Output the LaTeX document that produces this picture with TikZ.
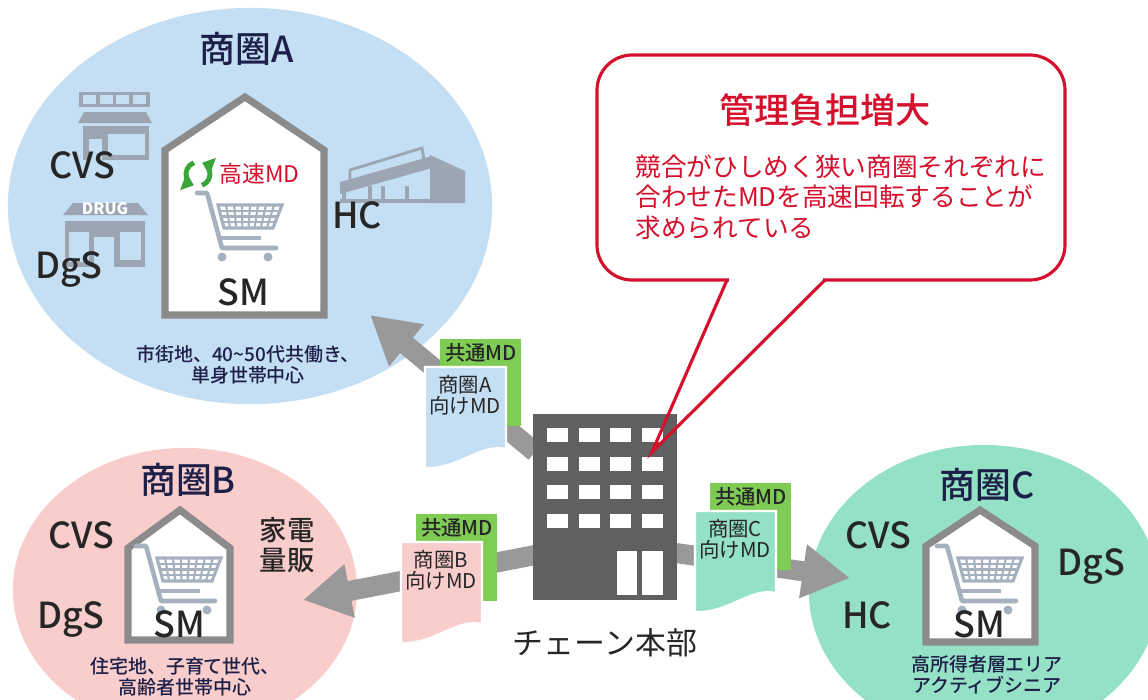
\documentclass[tikz,border=0pt]{standalone}
\usepackage{fontspec}
\setmainfont{Noto Sans CJK JP}
\newfontfamily\medfont{Noto Sans CJK JP Medium}
\usetikzlibrary{arrows.meta,shapes.geometric}

\definecolor{areaA}{HTML}{C4DEF3}
\definecolor{areaB}{HTML}{F8CDCB}
\definecolor{areaC}{HTML}{95E1C6}
\definecolor{navy}{HTML}{1C1F48}
\definecolor{alert}{HTML}{D5102C}
\definecolor{mdgreen}{HTML}{7FCC55}
\definecolor{iconGray}{HTML}{9CA6B2}
\definecolor{wallGray}{HTML}{8B8B8B}
\definecolor{hqGray}{HTML}{606060}
\definecolor{arrGray}{HTML}{999999}
\definecolor{cartGray}{HTML}{A6B1C0}
\definecolor{ink}{HTML}{262626}
\definecolor{recycle}{HTML}{3AA63A}

% green "common MD" tab with the area sheet on top
% #1,#2: top left of the tab, #3: sheet colour, #4: area letter, #5: node prefix
\newcommand{\mddoc}[5]{%
  \begin{scope}[shift={(#1,#2)}]
    \fill[mdgreen] (0,0) rectangle (81,87);
    \node[tabtxt] (#5tab) at (41,14) {共通MD};
    \filldraw[fill=#3, draw=white, line width=0.6pt]
      (-15,28) -- (66,28) -- (66,110) .. controls (40,104) and (20,130) .. (-15,129) -- cycle;
    \node[doctxt] (#5doc) at (25,56) {商圏#4\\向けMD};
  \end{scope}}

\begin{document}
\begin{tikzpicture}[x=0.01cm, y=-0.01cm,
  area/.style={ellipse, inner sep=0pt},
  title/.style={font=\fontsize{10.2}{12}\selectfont\medfont, text=navy},
  shop/.style={font=\fontsize{10.2}{12}\selectfont\medfont, text=ink, anchor=base},
  desc/.style={font=\fontsize{5.4}{5.9}\selectfont\medfont, text=navy, align=center},
  house/.style={draw=wallGray, fill=white, line width=2pt},
  icon/.style={fill=iconGray},
  bigarr/.style={arrGray, line width=5.7pt, -{Triangle[length=13.5pt,width=14.5pt]}},
  tabtxt/.style={font=\fontsize{5.8}{6}\selectfont\medfont, text=ink},
  doctxt/.style={font=\fontsize{5.8}{6}\selectfont, text=ink, align=center},
  bubble/.style={draw=alert, fill=white, line width=0.9pt, rounded corners=10pt},
  turn/.style={recycle, line width=1.4pt, -{Triangle[length=3.2pt,width=5pt]}},
  cart/.pic={
    \draw[cartGray, line width=1.3pt, line join=round, line cap=round]
      (-48,-32) -- (-38,-32) -- (-23,23) -- (31,23);
    \draw[cartGray, line width=1.3pt] (-25,13) -- (16,13);
    \draw[cartGray, line width=0.9pt] (-27,-20) -- (37,-20) -- (28,3) -- (-21,3) -- cycle;
    \foreach \i in {1,...,7}
      \draw[cartGray, line width=0.6pt] ({-27+\i*8},-20) -- ({-21+\i*6.125},3);
    \foreach \k in {1,2,3}
      \draw[cartGray, line width=0.6pt] ({-27+1.5*\k},{-20+5.75*\k}) -- ({37-2.25*\k},{-20+5.75*\k});
    \fill[cartGray] (-23,32) circle[radius=4.5] (23,32) circle[radius=4.5];
  }
]
\useasboundingbox (0,0) rectangle (1148,699);

% --- Areas ---
\node[area, fill=areaA, minimum width=4.84cm, minimum height=3.96cm] (areaA) at (250,206) {};
\node[area, fill=areaB, minimum width=3.44cm, minimum height=2.84cm] (areaB) at (185,590) {};
\node[area, fill=areaC, minimum width=3.50cm, minimum height=2.94cm] (areaC) at (984,592) {};

% --- Area A: shops ---
\fill[icon] (79,92) rectangle (150,107);
\foreach \k in {0,...,3} \fill[areaA] ({83+\k*16.5},95) rectangle ++(13,9);
\fill[icon] (84,112) -- (146,112) -- (152,123) -- (78,123) -- cycle;
\fill[icon] (83,126) rectangle (149,160);
\fill[areaA] (89,139) rectangle (102,160);
\fill[areaA] (108,134) rectangle (145,155);

\fill[icon] (73,203) -- (138,203) -- (148,215) -- (63,215) -- cycle;
\node[font=\fontsize{4.5}{5}\selectfont\bfseries, text=white] (drug) at (105,209) {DRUG};
\fill[icon] (65,221) rectangle (145,267);
\fill[areaA] (69,232) rectangle (89,262);
\fill[areaA] (94,237) rectangle (114,267);
\fill[areaA] (120,232) rectangle (141,260);

\draw[iconGray, line width=0.8pt] (350,182) -- (350,170) -- (422,148) -- (424,160);
\fill[icon] (340,182) -- (432,156) -- (432,168) -- (340,194) -- cycle;
\fill[icon] (430,155) -- (465,171) -- (465,203) -- (430,203) -- cycle;
\foreach \px in {342,368,381,405} \fill[icon] (\px,186) rectangle ++(4,17);
\fill[icon] (340,199) rectangle (432,203);

\node[title] (titleA) at (247,49) {商圏A};
\node[shop] (cvsA) at (82,178) {CVS};
\node[shop] (dgsA) at (69,278) {DgS};
\node[shop] (hcA) at (357,228) {HC};

\draw[house] (165,315) -- (165,150) -- (245,97) -- (324,150) -- (324,315) -- cycle;
\coordinate (turnA) at (198,174);
\draw[turn] (turnA) ++(110:0.12cm) arc[start angle=110, end angle=250, radius=0.12cm];
\draw[turn] (turnA) ++(290:0.12cm) arc[start angle=290, end angle=430, radius=0.12cm];
\node[font=\fontsize{6.5}{7}\selectfont, text=alert, anchor=west] (fastmd) at (207,174) {高速MD};
\pic at (245,225) {cart};
\node[shop] (smA) at (243,305) {SM};
\node[desc] (descA) at (248,365) {市街地、40\textasciitilde 50代共働き、\\単身世帯中心};

% --- Area B ---
\node[title] (titleB) at (188,480) {商圏B};
\node[shop] (cvsB) at (81,548) {CVS};
\node[shop] (dgsB) at (71,628) {DgS};
\node[font=\fontsize{7.8}{8.4}\selectfont\medfont, text=ink, align=center] (kaden) at (287,545) {家電\\量販};
\draw[house] (128,640) -- (128,548) -- (180,510) -- (230,548) -- (230,640) -- cycle;
\pic at (184,578) {cart};
\node[shop] (smB) at (179,637) {SM};
\node[desc] (descB) at (185,677) {住宅地、子育て世代、\\高齢者世帯中心};

% --- Area C ---
\node[title] (titleC) at (987,485) {商圏C};
\node[shop] (cvsC) at (878,548) {CVS};
\node[shop] (dgsC) at (1091,575) {DgS};
\node[shop] (hcC) at (867,628) {HC};
\draw[house] (926,642) -- (926,546) -- (980,510) -- (1035,546) -- (1035,642) -- cycle;
\pic at (985,578) {cart};
\node[shop] (smC) at (979,637) {SM};
\node[desc] (descC) at (987,675) {高所得者層エリア\\アクティブシニア};

% --- Flows from head office ---
\coordinate (outA) at (535,452);
\coordinate (outB) at (535,555);
\coordinate (outC) at (676,553);
\coordinate (tipA) at (370,315);
\coordinate (tipB) at (303,600);
\coordinate (tipC) at (850,578);
\draw[bigarr] (outA) -- (tipA);
\draw[bigarr] (outB) -- (tipB);
\draw[bigarr] (outC) -- (tipC);

% --- MD sheets ---
\mddoc{440}{339}{areaA}{A}{mdA}
\mddoc{416}{514}{areaB}{B}{mdB}
\mddoc{710}{483}{areaC}{C}{mdC}

% --- Head office ---
\node[fill=hqGray, minimum width=1.44cm, minimum height=1.86cm, inner sep=0pt] (hq) at (605,507) {};
\foreach \c in {0,...,3}
  \foreach \r in {0,...,3}
    \fill[white] ({547+\c*31.7},{428+\r*28.7}) rectangle ++(21,14);
\fill[white] (617,551) rectangle (637,595);
\fill[white] (642,551) rectangle (663,595);
\node[font=\fontsize{8.8}{10}\selectfont, text=ink] (hqname) at (605,643) {チェーン本部};

% --- Callout ---
\draw[bubble] (597,55) rectangle (1065,280);
\coordinate (tailL) at (727,280);
\coordinate (tailR) at (825,280);
\coordinate (tailTip) at (652,452);
\fill[white] (729,276) rectangle (823,284);
\draw[alert, line width=0.9pt, line join=miter] (tailL) -- (tailTip) -- (tailR);
\node[font=\fontsize{10}{12}\selectfont\medfont, text=alert] (burden) at (825,110) {管理負担増大};
\node[font=\fontsize{7.3}{8.6}\selectfont, text=alert, align=left, anchor=west] (burdentxt) at (623,197)
  {競合がひしめく狭い商圏それぞれに\\合わせたMDを高速回転することが\\求められている};
\end{tikzpicture}
\end{document}
